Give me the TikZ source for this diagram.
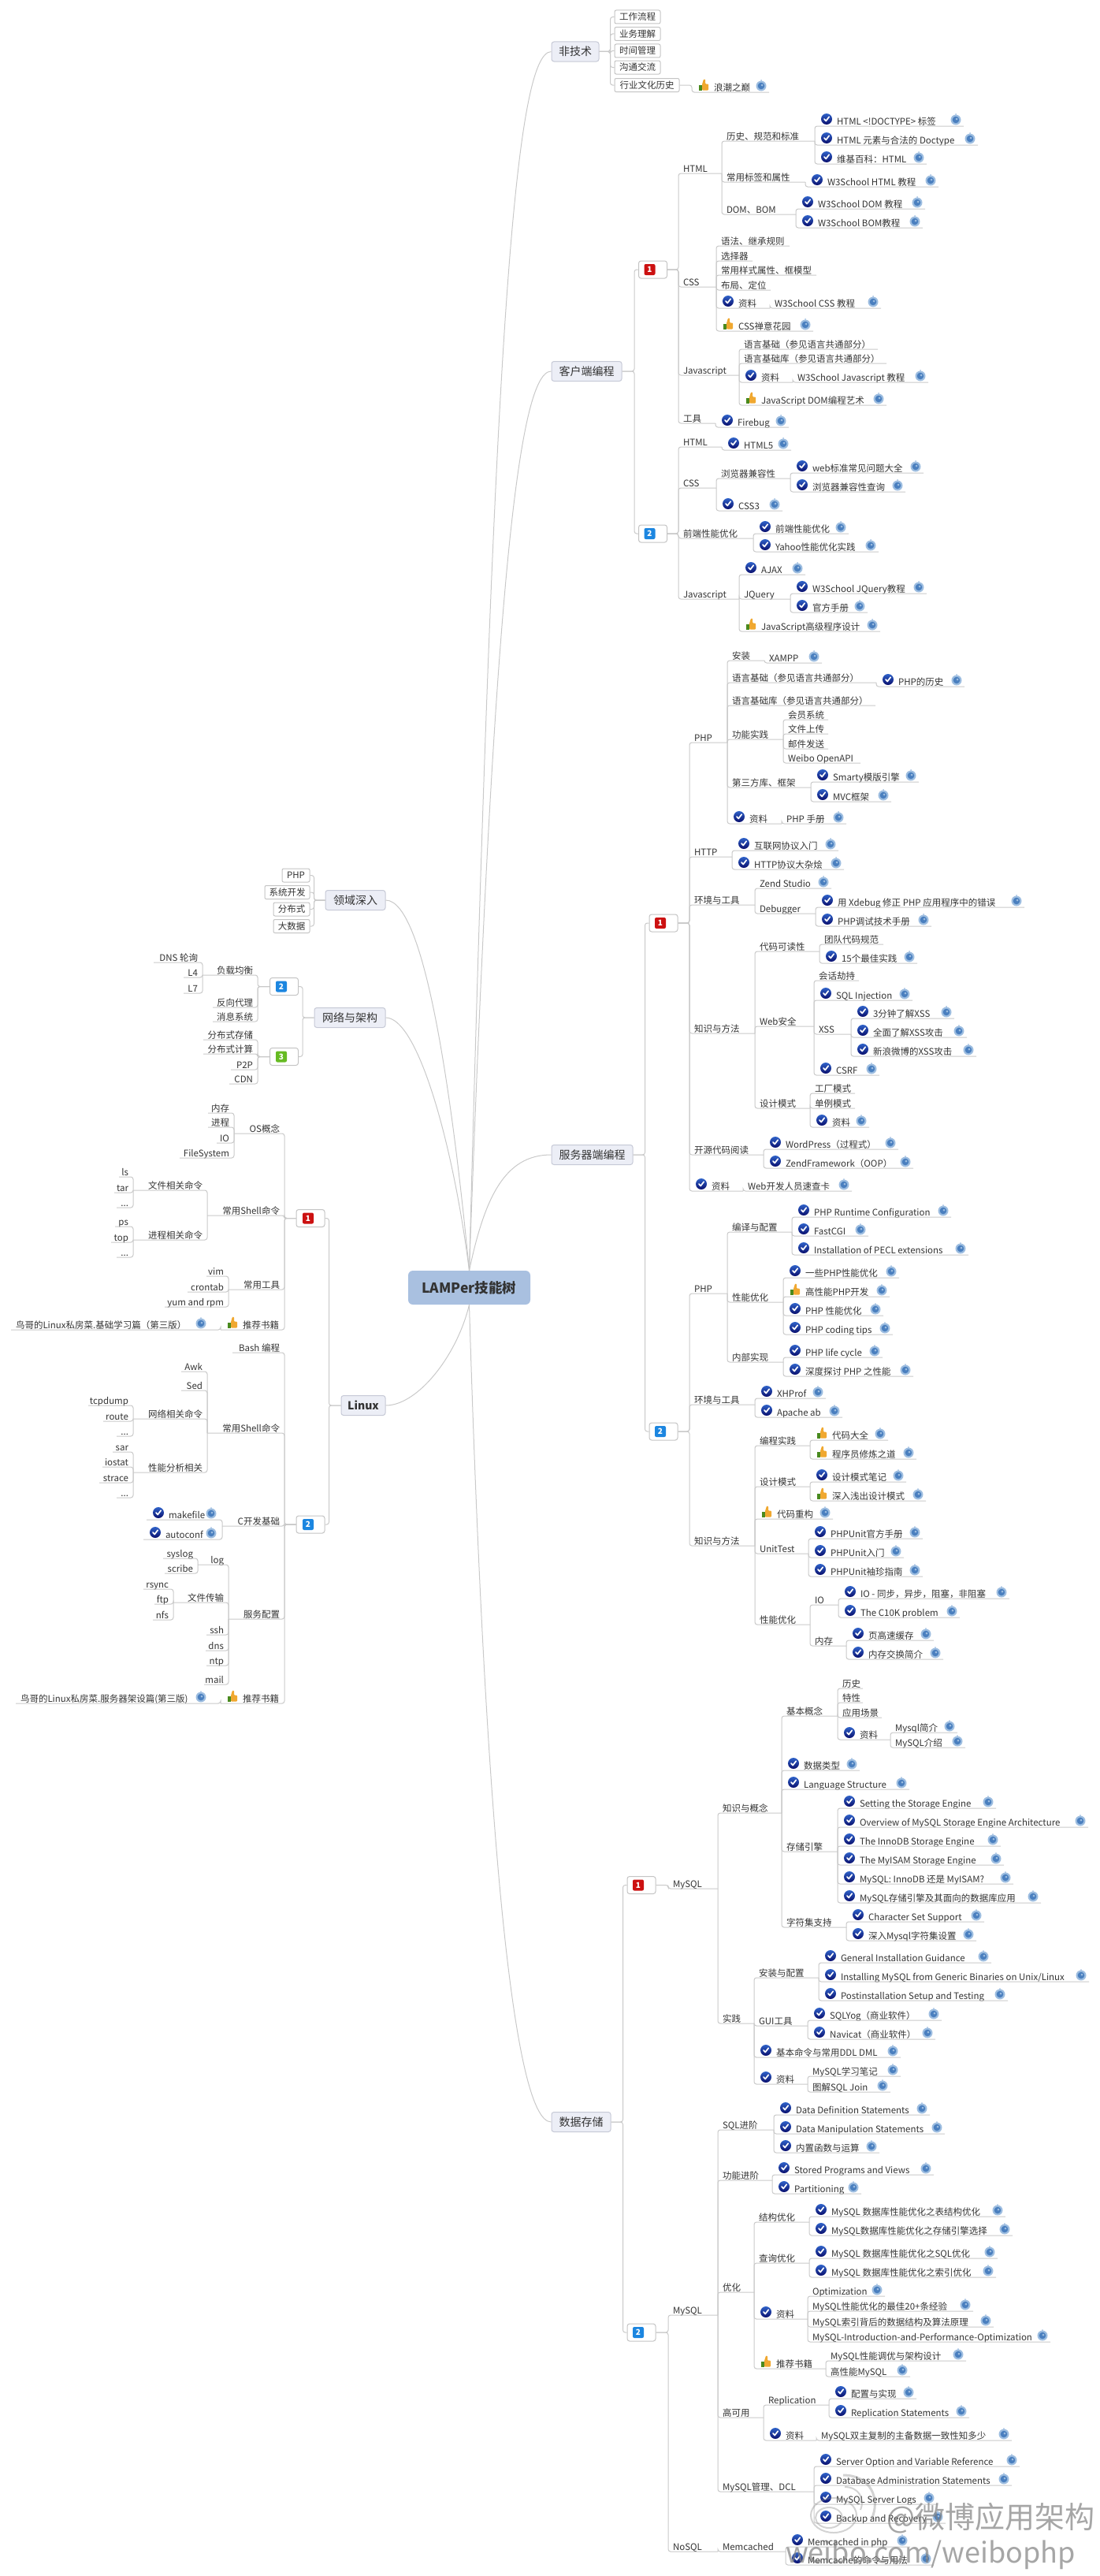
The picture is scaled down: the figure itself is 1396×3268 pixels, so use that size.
\documentclass[tikz,border=0pt]{standalone}
\usepackage{fontspec}
\setmainfont{Noto Sans CJK SC}
\usepackage{tikz}
\usepackage{xcolor}
\definecolor{lncol}{HTML}{C9C9C9}
\definecolor{boxcol}{HTML}{C4C4C4}
\definecolor{txtcol}{HTML}{333333}
\definecolor{topfill}{HTML}{ECEEF6}
\definecolor{topline}{HTML}{C6C9D6}
\definecolor{rootfill}{HTML}{A9C0E0}
\definecolor{numred}{HTML}{CC1111}
\definecolor{numblue}{HTML}{1C86E0}
\definecolor{numgreen}{HTML}{66BB22}
\definecolor{chka}{HTML}{2F62C8}
\definecolor{chkb}{HTML}{0A0F6E}
\definecolor{lnka}{HTML}{4A7FBF}
\definecolor{lnkb}{HTML}{9DBDE0}
\definecolor{thma}{HTML}{F0A830}
\definecolor{thmb}{HTML}{4A8A1E}
\tikzset{
  ln/.style={draw=lncol, line width=1pt, rounded corners=3pt},
  curve/.style={draw=lncol, line width=1pt},
  root/.style={draw=none, fill=rootfill, rounded corners=6pt, minimum width=155pt, minimum height=43pt, inner sep=0pt,
    text=txtcol, font=\fontsize{17.5}{20}\selectfont\bfseries},
  topic/.style={draw=topline, fill=topfill, rounded corners=3pt, minimum height=25pt, inner sep=0pt, line width=1pt,
    text=txtcol, font=\fontsize{14}{16}\selectfont},
  tag/.style={draw=boxcol, fill=white, rounded corners=2pt, minimum height=17pt, inner sep=0pt, line width=1pt,
    text=txtcol, font=\fontsize{11.5}{13}\selectfont},
  numbox/.style={draw=boxcol, fill=white, rounded corners=3pt, minimum width=36pt, minimum height=22pt, inner sep=0pt, line width=1pt},
  numicon/.style={rounded corners=2pt, minimum size=14pt, inner sep=0pt, text=white, font=\fontsize{10}{10}\selectfont\bfseries},
  leafbase/.style={inner sep=0pt, outer sep=0pt, text height=16pt, text depth=2pt, text=txtcol, font=\fontsize{11.5}{13}\selectfont},
  leaf/.style={leafbase, anchor=south west, execute at begin node={\hbox to #1pt\bgroup\hskip6pt}, execute at end node={\hss\egroup}},
  lleaf/.style={leafbase, anchor=south east, execute at begin node={\hbox to #1pt\bgroup\hss}, execute at end node={\hskip6pt\egroup}},
  chkpic/.pic={
    \shade[top color=chka, bottom color=chkb] (0,0) circle (7pt);
    \draw[white, line width=1.7pt, line cap=round, line join=round] (-3,0) -- (-0.8,2.5) -- (3.2,-2.8);
  },
  lnkpic/.pic={
    \fill[lnkb] (0,0) circle (6.5pt);
    \fill[lnkb] (0,-7) circle (1pt);
    \fill[lnka] (0,0) circle (4.3pt);
    \fill[lnkb] (1,-1) circle (1.5pt);
  },
  thmpic/.pic={
    \fill[thmb] (-6.5,0) rectangle (-2.5,6.5);
    \fill[thma, rounded corners=1pt] (-2,-1) -- (0,-7.5) -- (2,-7.5) -- (2,-1.5) -- (6,-1.5) -- (6,6.5) -- (-2,6.5) -- cycle;
  },
  chk/.style={execute at begin node=\hskip22pt, append after command={\pgfextra{\pic at ([xshift=15pt,yshift=9pt]\tikzlastnode.south west) {chkpic};}}},
  thm/.style={execute at begin node=\hskip22pt, append after command={\pgfextra{\pic at ([xshift=15pt,yshift=9pt]\tikzlastnode.south west) {thmpic};}}},
  lnk/.style={append after command={\pgfextra{\pic at ([xshift=-#1pt,yshift=8pt]\tikzlastnode.south east) {lnkpic};}}},
  lnk/.default=10,
}
\begin{document}
\begin{tikzpicture}[x=1pt,y=-1pt]
\useasboundingbox (0,0) rectangle (1396,3268);

\node[root] (lamp) at (595.5,1633.5) {LAMPer技能树};
\node[topic,minimum width=60pt] (soft) at (730,65.5) {非技术};
\node[topic,minimum width=89pt] (client) at (744.5,471) {客户端编程};
\node[topic,minimum width=103pt] (server) at (751.5,1465) {服务器端编程};
\node[topic,minimum width=75pt] (data) at (737.5,2692) {数据存储};
\node[topic,minimum width=76pt] (domain) at (451,1142) {领域深入};
\node[topic,minimum width=90pt] (net) at (444,1291) {网络与架构};
\node[topic,minimum width=56pt,font=\fontsize{14}{16}\selectfont\bfseries] (linux) at (461,1783) {Linux};

\node[tag,minimum width=58pt] (flow) at (809,21.5) {工作流程};
\node[tag,minimum width=58pt] (biz) at (809,43) {业务理解};
\node[tag,minimum width=58pt] (time) at (809,64.5) {时间管理};
\node[tag,minimum width=58pt] (talk) at (809,85.5) {沟通交流};
\node[tag,minimum width=82pt] (culture) at (821,108) {行业文化历史};
\node[leaf=98,thm,lnk] (tide) at (878,117) {浪潮之巅};

\node[tag,minimum width=35pt] (fphp) at (375.5,1110.5) {PHP};
\node[tag,minimum width=57pt] (fsys) at (364.5,1132) {系统开发};
\node[tag,minimum width=46pt] (fdis) at (370,1153.5) {分布式};
\node[tag,minimum width=46pt] (fbig) at (370,1175) {大数据};

\node[numbox] (c1) at (828.5,342) {};
\node[numicon,fill=numred] (c1i) at (824.5,342) {1};
\node[numbox] (c2) at (828.5,677) {};
\node[numicon,fill=numblue] (c2i) at (824.5,677) {2};
\node[numbox] (s1) at (842,1171) {};
\node[numicon,fill=numred] (s1i) at (838,1171) {1};
\node[numbox] (s2) at (842,1816) {};
\node[numicon,fill=numblue] (s2i) at (838,1816) {2};
\node[numbox] (d1) at (814,2391.5) {};
\node[numicon,fill=numred] (d1i) at (810,2391.5) {1};
\node[numbox] (d2) at (814,2959) {};
\node[numicon,fill=numblue] (d2i) at (810,2959) {2};
\node[numbox] (n2) at (360.5,1251.5) {};
\node[numicon,fill=numblue] (n2i) at (357,1251.5) {2};
\node[numbox] (n3) at (360.5,1340.5) {};
\node[numicon,fill=numgreen] (n3i) at (357,1340.5) {3};
\node[numbox] (l1) at (394,1545.5) {};
\node[numicon,fill=numred] (l1i) at (391,1545.5) {1};
\node[numbox] (l2) at (394,1934) {};
\node[numicon,fill=numblue] (l2i) at (391,1934) {2};

\node[leaf=55] (chtml) at (861,220) {HTML};
\node[leaf=118] (chist) at (916,179) {历史、规范和标准};
\node[leaf=189,chk,lnk] (cdoct) at (1034,160) {HTML <!DOCTYPE> 标签};
\node[leaf=207,chk,lnk] (celem) at (1034,184) {HTML 元素与合法的 Doctype};
\node[leaf=142,chk,lnk] (cwiki) at (1034,208) {维基百科：HTML};
\node[leaf=106] (ctag) at (916,231) {常用标签和属性};
\node[leaf=169,chk,lnk] (cw3h) at (1022,237) {W3School HTML 教程};
\node[leaf=94] (cdom) at (916,272) {DOM、BOM};
\node[leaf=164,chk,lnk] (cw3d) at (1010,265) {W3School DOM 教程};
\node[leaf=161,chk,lnk] (cw3b) at (1010,289) {W3School BOM教程};
\node[leaf=48] (ccss) at (861,364) {CSS};
\node[leaf=93] (cgram) at (909,312) {语法、继承规则};
\node[leaf=46] (csel) at (909,331) {选择器};
\node[leaf=127] (cbox) at (909,349) {常用样式属性、框模型};
\node[leaf=69] (clay) at (909,368) {布局、定位};
\node[leaf=68,chk] (cdoc) at (909,391) {资料};
\node[leaf=141,lnk] (cw3c) at (977,391) {W3School CSS 教程};
\node[leaf=123,thm,lnk] (czen) at (909,420) {CSS禅意花园};
\node[leaf=77] (cjs) at (861,476) {Javascript};
\node[leaf=176] (cjb) at (938,443) {语言基础（参见语言共通部分）};
\node[leaf=187] (cjl) at (938,461) {语言基础库（参见语言共通部分）};
\node[leaf=68,chk] (cjd) at (938,485) {资料};
\node[leaf=172,lnk] (cw3j) at (1006,485) {W3School Javascript 教程};
\node[leaf=187,thm,lnk] (cjm) at (938,514) {JavaScript DOM编程艺术};
\node[leaf=47] (ctool) at (861,537) {工具};
\node[leaf=93,chk,lnk] (cfire) at (908,542) {Firebug};

\node[leaf=55] (chtmlb) at (861,567) {HTML};
\node[leaf=88,chk,lnk] (chtml5) at (916,571) {HTML5};
\node[leaf=48] (ccssb) at (861,619) {CSS};
\node[leaf=94] (ccomp) at (909,607) {浏览器兼容性};
\node[leaf=169,chk,lnk] (cweb) at (1003,600) {web标准常见问题大全};
\node[leaf=146,chk,lnk] (ccheck) at (1003,624) {浏览器兼容性查询};
\node[leaf=84,chk,lnk] (ccss3) at (909,648) {CSS3};
\node[leaf=95] (cperf) at (861,683) {前端性能优化};
\node[leaf=121,chk,lnk] (cperfa) at (956,677) {前端性能优化};
\node[leaf=159,chk,lnk] (cyahoo) at (956,700) {Yahoo性能优化实践};
\node[leaf=77] (cjsb) at (861,760) {Javascript};
\node[leaf=84,chk,lnk] (cajax) at (938,729) {AJAX};
\node[leaf=65] (cjq) at (938,760) {JQuery};
\node[leaf=173,chk,lnk] (cjqw) at (1003,753) {W3School JQuery教程};
\node[leaf=98,chk,lnk] (cjqm) at (1003,777) {官方手册};
\node[leaf=179,thm,lnk] (cjsh) at (938,801) {JavaScript高级程序设计};

\node[leaf=48] (sphp) at (875,942) {PHP};
\node[leaf=47] (sins) at (923,838) {安装};
\node[leaf=73,lnk] (sxam) at (970,841) {XAMPP};
\node[leaf=189] (slang) at (923,866) {语言基础（参见语言共通部分）};
\node[leaf=112,chk,lnk] (shist) at (1112,871) {PHP的历史};
\node[leaf=188] (slib) at (923,895) {语言基础库（参见语言共通部分）};
\node[leaf=71] (sfun) at (923,938) {功能实践};
\node[leaf=57] (smem) at (994,913) {会员系统};
\node[leaf=57] (supl) at (994,931) {文件上传};
\node[leaf=57] (smail) at (994,950) {邮件发送};
\node[leaf=98] (swei) at (994,968) {Weibo OpenAPI};
\node[leaf=106] (sthird) at (923,999) {第三方库、框架};
\node[leaf=137,chk,lnk] (ssma) at (1029,992) {Smarty模版引擎};
\node[leaf=102,chk,lnk] (smvc) at (1029,1017) {MVC框架};
\node[leaf=69,chk] (sref) at (923,1045) {资料};
\node[leaf=82,lnk] (sman) at (992,1045) {PHP 手册};
\node[leaf=54] (shttp) at (875,1087) {HTTP};
\node[leaf=135,chk,lnk] (snet) at (929,1079) {互联网协议入门};
\node[leaf=142,chk,lnk] (sbig) at (929,1103) {HTTP协议大杂烩};
\node[leaf=83] (senv) at (875,1148) {环境与工具};
\node[leaf=97,lnk] (szend) at (958,1127) {Zend Studio};
\node[leaf=77] (sdbg) at (958,1159) {Debugger};
\node[leaf=265,chk,lnk] (sxde) at (1035,1151) {用 Xdebug 修正 PHP 应用程序中的错误};
\node[leaf=147,chk,lnk] (stec) at (1035,1175) {PHP调试技术手册};
\node[leaf=83] (sknow) at (875,1311) {知识与方法};
\node[leaf=82] (sread) at (958,1207) {代码可读性};
\node[leaf=81] (steam) at (1040,1198) {团队代码规范};
\node[leaf=124,chk,lnk] (sbest) at (1040,1222) {15个最佳实践};
\node[leaf=75] (sweb) at (958,1302) {Web安全};
\node[leaf=57] (ssess) at (1033,1244) {会话劫持};
\node[leaf=125,chk,lnk] (ssql) at (1033,1269) {SQL Injection};
\node[leaf=47] (sxss) at (1033,1312) {XSS};
\node[leaf=131,chk,lnk] (sx3) at (1080,1292) {3分钟了解XSS};
\node[leaf=147,chk,lnk] (sxall) at (1080,1316) {全面了解XSS攻击};
\node[leaf=159,chk,lnk] (sxsina) at (1080,1340) {新浪微博的XSS攻击};
\node[leaf=83,chk,lnk] (scsrf) at (1033,1364) {CSRF};
\node[leaf=70] (spat) at (958,1406) {设计模式};
\node[leaf=57] (sfac) at (1028,1387) {工厂模式};
\node[leaf=57] (ssin) at (1028,1406) {单例模式};
\node[leaf=75,chk,lnk] (sdoc) at (1028,1430) {资料};
\node[leaf=94] (sopen) at (875,1465) {开源代码阅读};
\node[leaf=171,chk,lnk] (swp) at (969,1458) {WordPress（过程式）};
\node[leaf=190,chk,lnk] (szf) at (969,1482) {ZendFramework（OOP）};
\node[leaf=68,chk] (sres) at (875,1511) {资料};
\node[leaf=138,lnk] (squick) at (943,1511) {Web开发人员速查卡};

\node[leaf=48] (sphpb) at (875,1641) {PHP};
\node[leaf=82] (scomp) at (923,1563) {编译与配置};
\node[leaf=202,chk,lnk] (srun) at (1005,1544) {PHP Runtime Configuration};
\node[leaf=97,chk,lnk] (sfast) at (1005,1568) {FastCGI};
\node[leaf=224,chk,lnk] (speel) at (1005,1592) {Installation of PECL extensions};
\node[leaf=71] (sperf) at (923,1652) {性能优化};
\node[leaf=147,chk,lnk] (sopt) at (994,1621) {一些PHP性能优化};
\node[leaf=135,thm,lnk] (shigh) at (994,1645) {高性能PHP开发};
\node[leaf=127,chk,lnk] (sphpo) at (994,1669) {PHP 性能优化};
\node[leaf=139,chk,lnk] (stips) at (994,1693) {PHP coding tips};
\node[leaf=71] (sint) at (923,1728) {内部实现};
\node[leaf=126,chk,lnk] (slife) at (994,1722) {PHP life cycle};
\node[leaf=165,chk,lnk] (sdeep) at (994,1746) {深度探讨 PHP 之性能};
\node[leaf=83] (senvb) at (875,1782) {环境与工具};
\node[leaf=90,chk,lnk] (sxhp) at (958,1774) {XHProf};
\node[leaf=111,chk,lnk] (sab) at (958,1798) {Apache ab};
\node[leaf=83] (sknowb) at (875,1961) {知识与方法};
\node[leaf=70] (sprac) at (958,1834) {编程实践};
\node[leaf=99,thm,lnk] (scode) at (1028,1827) {代码大全};
\node[leaf=135,thm,lnk] (smaster) at (1028,1851) {程序员修炼之道};
\node[leaf=70] (spatb) at (958,1886) {设计模式};
\node[leaf=122,chk,lnk] (snote) at (1028,1880) {设计模式笔记};
\node[leaf=147,thm,lnk] (shead) at (1028,1904) {深入浅出设计模式};
\node[leaf=99,thm,lnk] (srefac) at (958,1927) {代码重构};
\node[leaf=68] (sunit) at (958,1971) {UnitTest};
\node[leaf=145,chk,lnk] (sua) at (1026,1952) {PHPUnit官方手册};
\node[leaf=121,chk,lnk] (subs) at (1026,1976) {PHPUnit入门};
\node[leaf=145,chk,lnk] (suc) at (1026,2000) {PHPUnit袖珍指南};
\node[leaf=70] (sperfb) at (958,2061) {性能优化};
\node[leaf=36] (sio) at (1028,2036) {IO};
\node[leaf=217,chk,lnk] (siosync) at (1064,2028) {IO - 同步，异步，阻塞，非阻塞};
\node[leaf=154,chk,lnk] (sc10) at (1064,2052) {The C10K problem};
\node[leaf=46] (smemo) at (1028,2088) {内存};
\node[leaf=111,chk,lnk] (spage) at (1074,2081) {页高速缓存};
\node[leaf=123,chk,lnk] (sswap) at (1074,2105) {内存交换简介};

\node[leaf=63] (dmy) at (848,2396) {MySQL};
\node[leaf=81] (dkno) at (911,2300) {知识与概念};
\node[leaf=71] (dbas) at (992,2177) {基本概念};
\node[leaf=32] (dhis) at (1063,2142) {历史};
\node[leaf=32] (dfea) at (1063,2160) {特性};
\node[leaf=56] (dsce) at (1063,2179) {应用场景};
\node[leaf=67,chk] (dres) at (1063,2207) {资料};
\node[leaf=85,lnk] (dint) at (1130,2198) {Mysql简介};
\node[leaf=95,lnk] (dmyi) at (1130,2217) {MySQL介绍};
\node[leaf=99,chk,lnk] (dtyp) at (992,2246) {数据类型};
\node[leaf=162,chk,lnk] (dlan) at (992,2270) {Language Structure};
\node[leaf=71] (dsto) at (992,2349) {存储引擎};
\node[leaf=201,chk,lnk] (dse1) at (1063,2294) {Setting the Storage Engine};
\node[leaf=318,chk,lnk] (dse2) at (1063,2318) {Overview of MySQL Storage Engine Architecture};
\node[leaf=207,chk,lnk] (dse3) at (1063,2342) {The InnoDB Storage Engine};
\node[leaf=211,chk,lnk] (dse4) at (1063,2366) {The MyISAM Storage Engine};
\node[leaf=223,chk,lnk] (dse5) at (1063,2390) {MySQL: InnoDB 还是 MyISAM?};
\node[leaf=258,chk,lnk] (dse6) at (1063,2414) {MySQL存储引擎及其面向的数据库应用};
\node[leaf=82] (dcha) at (992,2445) {字符集支持};
\node[leaf=175,chk,lnk] (dcs) at (1074,2438) {Character Set Support};
\node[leaf=165,chk,lnk] (ddeep) at (1074,2462) {深入Mysql字符集设置};
\node[leaf=46] (dpra) at (911,2567) {实践};
\node[leaf=82] (dins) at (957,2509) {安装与配置};
\node[leaf=219,chk,lnk] (dgen) at (1039,2490) {General Installation Guidance};
\node[leaf=343,chk,lnk] (dbin) at (1039,2514) {Installing MySQL from Generic Binaries on Unix/Linux};
\node[leaf=240,chk,lnk] (dpos) at (1039,2538) {Postinstallation Setup and Testing};
\node[leaf=68] (dgui) at (957,2570) {GUI工具};
\node[leaf=170,chk,lnk] (dsq) at (1025,2563) {SQLYog（商业软件）};
\node[leaf=162,chk,lnk] (dnav) at (1025,2587) {Navicat（商业软件）};
\node[leaf=186,chk,lnk] (dcmd) at (957,2610) {基本命令与常用DDL DML};
\node[leaf=68,chk] (dresb) at (957,2644) {资料};
\node[leaf=118,lnk] (dnote) at (1025,2634) {MySQL学习笔记};
\node[leaf=105,lnk] (djoin) at (1025,2654) {图解SQL Join};

\node[leaf=63] (dmyb) at (848,2937) {MySQL};
\node[leaf=71] (dsql) at (911,2702) {SQL进阶};
\node[leaf=198,chk,lnk] (ddef) at (982,2683) {Data Definition Statements};
\node[leaf=217,chk,lnk] (dman) at (982,2707) {Data Manipulation Statements};
\node[leaf=134,chk,lnk] (dfun) at (982,2731) {内置函数与运算};
\node[leaf=69] (dfn) at (911,2766) {功能进阶};
\node[leaf=205,chk,lnk] (dsp) at (980,2759) {Stored Programs and Views};
\node[leaf=113,chk,lnk] (dpar) at (980,2783) {Partitioning};
\node[leaf=46] (dopt) at (911,2908) {优化};
\node[leaf=70] (dstr) at (957,2819) {结构优化};
\node[leaf=249,chk,lnk] (dst1) at (1027,2812) {MySQL 数据库性能优化之表结构优化};
\node[leaf=258,chk,lnk] (dst2) at (1027,2836) {MySQL数据库性能优化之存储引擎选择};
\node[leaf=70] (dqry) at (957,2871) {查询优化};
\node[leaf=239,chk,lnk] (dq1) at (1027,2865) {MySQL 数据库性能优化之SQL优化};
\node[leaf=237,chk,lnk] (dq2) at (1027,2889) {MySQL 数据库性能优化之索引优化};
\node[leaf=68,chk] (dopr) at (957,2942) {资料};
\node[leaf=98,lnk] (dop1) at (1025,2913) {Optimization};
\node[leaf=210,lnk] (dop2) at (1025,2932) {MySQL性能优化的最佳20+条经验};
\node[leaf=236,lnk] (dop3) at (1025,2952) {MySQL索引背后的数据结构及算法原理};
\node[leaf=308,lnk] (dop4) at (1025,2971) {MySQL-Introduction-and-Performance-Optimization};
\node[leaf=91,thm] (dbk) at (957,3005) {推荐书籍};
\node[leaf=178,lnk] (dbk1) at (1048,2995) {MySQL性能调优与架构设计};
\node[leaf=107,lnk] (dbk2) at (1048,3015) {高性能MySQL};
\node[leaf=58] (dha) at (911,3067) {高可用};
\node[leaf=83] (drep) at (969,3051) {Replication};
\node[leaf=111,chk,lnk] (dr1) at (1052,3043) {配置与实现};
\node[leaf=178,chk,lnk] (dr2) at (1052,3067) {Replication Statements};
\node[leaf=67,chk] (dhres) at (969,3096) {资料};
\node[leaf=248,lnk] (dhq) at (1036,3096) {MySQL双主复制的主备数据一致性知多少};
\node[leaf=122] (dadm) at (911,3161) {MySQL管理、DCL};
\node[leaf=261,chk,lnk] (dad1) at (1033,3129) {Server Option and Variable Reference};
\node[leaf=251,chk,lnk] (dad2) at (1033,3153) {Database Administration Statements};
\node[leaf=156,chk,lnk] (dad3) at (1033,3177) {MySQL Server Logs};
\node[leaf=167,chk,lnk] (dad4) at (1033,3201) {Backup and Recovery};
\node[leaf=63] (dnos) at (848,3237) {NoSQL};
\node[leaf=86] (dmem) at (911,3237) {Memcached};
\node[leaf=158,chk,lnk] (dm1) at (997,3231) {Memcached in php};
\node[leaf=188,chk,lnk] (dm2) at (997,3254) {Memcache的命令与用法};

\node[lleaf=70] (nload) at (327,1237) {负载均衡};
\node[lleaf=62] (ndns) at (257,1221) {DNS 轮询};
\node[lleaf=24] (nl4) at (257,1240) {L4};
\node[lleaf=24] (nl7) at (257,1260) {L7};
\node[lleaf=57] (nrev) at (327,1278) {反向代理};
\node[lleaf=57] (nmsg) at (327,1296) {消息系统};
\node[lleaf=69] (nsto) at (327,1319) {分布式存储};
\node[lleaf=69] (ncal) at (327,1337) {分布式计算};
\node[lleaf=34] (np2p) at (327,1357) {P2P};
\node[lleaf=36] (ncdn) at (327,1375) {CDN};

\node[lleaf=64] (los) at (361,1438) {OS概念};
\node[lleaf=33] (lmem) at (297,1412) {内存};
\node[lleaf=33] (lpro) at (297,1430) {进程};
\node[lleaf=22] (lio) at (297,1450) {IO};
\node[lleaf=69] (lfs) at (297,1469) {FileSystem};
\node[lleaf=98] (lsh) at (361,1542) {常用Shell命令};
\node[lleaf=94] (lfil) at (263,1510) {文件相关命令};
\node[lleaf=18] (lls) at (169,1493) {ls};
\node[lleaf=24] (ltar) at (169,1513) {tar};
\node[lleaf=21] (ld1) at (169,1532) {...};
\node[lleaf=94] (lprs) at (263,1573) {进程相关命令};
\node[lleaf=23] (lps) at (169,1556) {ps};
\node[lleaf=28] (ltop) at (169,1576) {top};
\node[lleaf=21] (ld2) at (169,1595) {...};
\node[lleaf=71] (ltl) at (361,1636) {常用工具};
\node[lleaf=28] (lvim) at (290,1619) {vim};
\node[lleaf=52] (lcro) at (290,1639) {crontab};
\node[lleaf=81] (lyum) at (290,1658) {yum and rpm};
\node[leaf=81,thm] (lbook) at (280,1687) {推荐书籍};
\node[leaf=266,lnk=25] (lbn) at (14,1687) {鸟哥的Linux私房菜.基础学习篇（第三版）};

\node[lleaf=66] (lbash) at (361,1716) {Bash 编程};
\node[lleaf=98] (lshb) at (361,1818) {常用Shell命令};
\node[lleaf=33] (lawk) at (263,1740) {Awk};
\node[lleaf=33] (lsed) at (263,1764) {Sed};
\node[lleaf=94] (lnet) at (263,1800) {网络相关命令};
\node[lleaf=57] (ltcp) at (169,1783) {tcpdump};
\node[lleaf=38] (lrou) at (169,1803) {route};
\node[lleaf=21] (ld3) at (169,1822) {...};
\node[lleaf=94] (lana) at (263,1868) {性能分析相关};
\node[lleaf=26] (lsar) at (169,1842) {sar};
\node[lleaf=39] (lios) at (169,1861) {iostat};
\node[lleaf=43] (lstr) at (169,1881) {strace};
\node[lleaf=21] (ld4) at (169,1900) {...};
\node[lleaf=79] (lc) at (361,1936) {C开发基础};
\node[leaf=96,chk,lnk=14] (lmak) at (186,1928) {makefile};
\node[leaf=100,chk,lnk=14] (lauto) at (182,1953) {autoconf};
\node[lleaf=71] (lsrv) at (361,2054) {服务配置};
\node[lleaf=39] (llog) at (290,1985) {log};
\node[lleaf=44] (lsys) at (251,1977) {syslog};
\node[lleaf=42] (lscr) at (251,1996) {scribe};
\node[lleaf=70] (lfilb) at (290,2033) {文件传输};
\node[lleaf=38] (lrsy) at (220,2016) {rsync};
\node[lleaf=24] (lftp) at (220,2035) {ftp};
\node[lleaf=26] (lnfs) at (220,2055) {nfs};
\node[lleaf=28] (lssh) at (290,2074) {ssh};
\node[lleaf=29] (ldnsb) at (290,2094) {dns};
\node[lleaf=28] (lntp) at (290,2113) {ntp};
\node[lleaf=31] (lmai) at (290,2137) {mail};
\node[leaf=81,thm] (lbookb) at (280,2161) {推荐书籍};
\node[leaf=260,lnk=25] (lbnb) at (20,2161) {鸟哥的Linux私房菜.服务器架设篇(第三版)};

\draw[curve] (lamp.north) .. controls (625,500) and (650,66) .. (soft.west);
\draw[curve] (lamp.north) .. controls (625,800) and (655,471) .. (client.west);
\draw[curve] (lamp.north) .. controls (615,1520) and (640,1465) .. (server.west);
\draw[curve] (lamp.south) .. controls (615,2300) and (650,2692) .. (data.west);
\draw[curve] (lamp.north) .. controls (575,1400) and (540,1142) .. (domain.east);
\draw[curve] (lamp.north) .. controls (575,1450) and (530,1291) .. (net.east);
\draw[curve] (lamp.south) .. controls (580,1720) and (530,1783) .. (linux.east);

\foreach \p/\c in {soft/flow,soft/biz,soft/time,soft/talk,soft/culture,client/c1,client/c2,server/s1,server/s2,data/d1,data/d2}
  \draw[ln] (\c.west) -- ++(-5,0) |- (\p.east);
\foreach \p/\c in {domain/fphp,domain/fsys,domain/fdis,domain/fbig,net/n2,net/n3,linux/l1,linux/l2}
  \draw[ln] (\c.east) -- ++(5,0) |- (\p.west);

\foreach \p/\c in {culture/tide,c1/chtml,c1/ccss,c1/cjs,c1/ctool,c2/chtmlb,c2/ccssb,c2/cperf,c2/cjsb,
  s1/sphp,s1/shttp,s1/senv,s1/sknow,s1/sopen,s1/sres,s2/sphpb,s2/senvb,s2/sknowb,d1/dmy,d2/dmyb,d2/dnos}
  \draw[ln] (\p.east) -| (\c.south west) -- (\c.south east);
\foreach \p/\c in {n2/nload,n2/nrev,n2/nmsg,n3/nsto,n3/ncal,n3/np2p,n3/ncdn,
  l1/los,l1/lsh,l1/ltl,l1/lbook,l2/lbash,l2/lshb,l2/lc,l2/lsrv,l2/lbookb}
  \draw[ln] (\p.west) -| (\c.south east) -- (\c.south west);

\foreach \p/\c in {chtml/chist,chtml/ctag,chtml/cdom,chist/cdoct,chist/celem,chist/cwiki,ctag/cw3h,cdom/cw3d,cdom/cw3b,
  ccss/cgram,ccss/csel,ccss/cbox,ccss/clay,ccss/cdoc,ccss/czen,cdoc/cw3c,cjs/cjb,cjs/cjl,cjs/cjd,cjs/cjm,cjd/cw3j,ctool/cfire,
  chtmlb/chtml5,ccssb/ccomp,ccssb/ccss3,ccomp/cweb,ccomp/ccheck,cperf/cperfa,cperf/cyahoo,
  cjsb/cajax,cjsb/cjq,cjsb/cjsh,cjq/cjqw,cjq/cjqm}
  \draw[ln] (\p.south east) |- (\c.south east);
\foreach \p/\c in {sphp/sins,sins/sxam,sphp/slang,slang/shist,sphp/slib,sphp/sfun,sfun/smem,sfun/supl,sfun/smail,sfun/swei,
  sphp/sthird,sthird/ssma,sthird/smvc,sphp/sref,sref/sman,shttp/snet,shttp/sbig,senv/szend,senv/sdbg,sdbg/sxde,sdbg/stec,
  sknow/sread,sread/steam,sread/sbest,sknow/sweb,sweb/ssess,sweb/ssql,sweb/sxss,sweb/scsrf,sxss/sx3,sxss/sxall,sxss/sxsina,
  sknow/spat,spat/sfac,spat/ssin,spat/sdoc,sopen/swp,sopen/szf,sres/squick,
  sphpb/scomp,scomp/srun,scomp/sfast,scomp/speel,sphpb/sperf,sperf/sopt,sperf/shigh,sperf/sphpo,sperf/stips,
  sphpb/sint,sint/slife,sint/sdeep,senvb/sxhp,senvb/sab,sknowb/sprac,sprac/scode,sprac/smaster,
  sknowb/spatb,spatb/snote,spatb/shead,sknowb/srefac,sknowb/sunit,sunit/sua,sunit/subs,sunit/suc,
  sknowb/sperfb,sperfb/sio,sio/siosync,sio/sc10,sperfb/smemo,smemo/spage,smemo/sswap}
  \draw[ln] (\p.south east) |- (\c.south east);
\foreach \p/\c in {dmy/dkno,dmy/dpra,dkno/dbas,dbas/dhis,dbas/dfea,dbas/dsce,dbas/dres,dres/dint,dres/dmyi,dkno/dtyp,dkno/dlan,
  dkno/dsto,dsto/dse1,dsto/dse2,dsto/dse3,dsto/dse4,dsto/dse5,dsto/dse6,dkno/dcha,dcha/dcs,dcha/ddeep,
  dpra/dins,dins/dgen,dins/dbin,dins/dpos,dpra/dgui,dgui/dsq,dgui/dnav,dpra/dcmd,dpra/dresb,dresb/dnote,dresb/djoin,
  dmyb/dsql,dsql/ddef,dsql/dman,dsql/dfun,dmyb/dfn,dfn/dsp,dfn/dpar,dmyb/dopt,dopt/dstr,dstr/dst1,dstr/dst2,
  dopt/dqry,dqry/dq1,dqry/dq2,dopt/dopr,dopr/dop1,dopr/dop2,dopr/dop3,dopr/dop4,dopt/dbk,dbk/dbk1,dbk/dbk2,
  dmyb/dha,dha/drep,drep/dr1,drep/dr2,dha/dhres,dhres/dhq,dmyb/dadm,dadm/dad1,dadm/dad2,dadm/dad3,dadm/dad4,
  dnos/dmem,dmem/dm1,dmem/dm2}
  \draw[ln] (\p.south east) |- (\c.south east);
\foreach \p/\c in {nload/ndns,nload/nl4,nload/nl7,los/lmem,los/lpro,los/lio,los/lfs,lsh/lfil,lsh/lprs,lfil/lls,lfil/ltar,lfil/ld1,
  lprs/lps,lprs/ltop,lprs/ld2,ltl/lvim,ltl/lcro,ltl/lyum,lbook/lbn,lshb/lawk,lshb/lsed,lshb/lnet,lshb/lana,lnet/ltcp,lnet/lrou,lnet/ld3,
  lana/lsar,lana/lios,lana/lstr,lana/ld4,lc/lmak,lc/lauto,lsrv/llog,lsrv/lfilb,lsrv/lssh,lsrv/ldnsb,lsrv/lntp,lsrv/lmai,
  llog/lsys,llog/lscr,lfilb/lrsy,lfilb/lftp,lfilb/lnfs,lbookb/lbnb}
  \draw[ln] (\p.south west) |- (\c.south west);

\draw[gray,opacity=.35,line width=2pt] (1058,3191) ellipse (29pt and 22pt);
\draw[gray,opacity=.35,line width=2pt] (1052,3194) ellipse (17pt and 13pt);
\draw[gray,opacity=.35,line width=3pt] (1070,3140) .. controls (1105,3140) and (1118,3170) .. (1106,3196);
\draw[gray,opacity=.35,line width=2pt] (1072,3155) .. controls (1090,3155) and (1098,3170) .. (1092,3184);
\node[text=gray,opacity=.7,inner sep=0pt,anchor=west,font=\fontsize{38}{40}\selectfont] (mark1) at (1125,3195) {@微博应用架构};
\node[text=gray,opacity=.7,inner sep=0pt,anchor=west,font=\fontsize{36}{38}\selectfont] (mark2) at (997,3241) {weibo.com/weibophp};
\end{tikzpicture}
\end{document}
